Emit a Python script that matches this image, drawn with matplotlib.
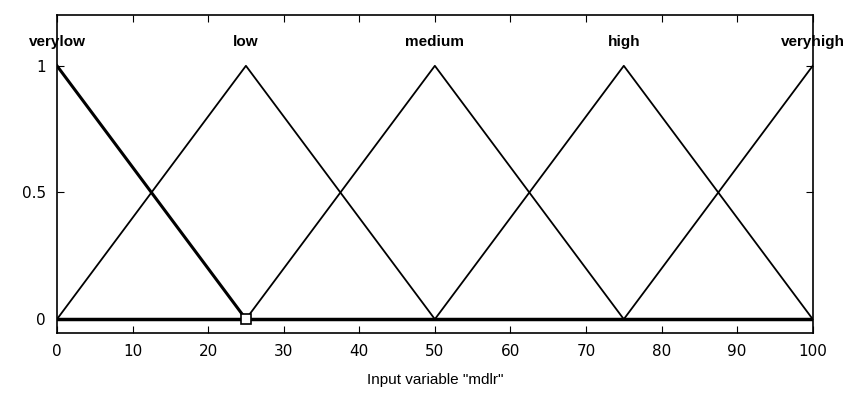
import matplotlib
matplotlib.use("Agg")
import matplotlib.pyplot as plt

mf_names = ["verylow", "low", "medium", "high", "veryhigh"]
mf_params = [[-25, 0, 25], [0, 25, 50], [25, 50, 75], [50, 75, 100], [75, 100, 125]]
x_range = [0, 100]
x_ticks = [0, 10, 20, 30, 40, 50, 60, 70, 80, 90, 100]
y_ticks = [0, 0.5, 1]
y_ticklabels = ["0", "0.5", "1"]
xlabel = 'Input variable "mdlr"'

fig = plt.figure(figsize=(8.53, 3.98), dpi=100)
ax = fig.add_axes([0.0668, 0.163, 0.886, 0.799])

for i, (name, (a, b, c)) in enumerate(zip(mf_names, mf_params)):
    xs = [max(a, x_range[0]), b, min(c, x_range[1])]
    def mu(x):
        if x <= b:
            return (x - a) / (b - a)
        return (c - x) / (c - b)
    ys = [mu(v) for v in xs]
    lw = 2.2 if i == 0 else 1.3
    ax.plot(xs, ys, color="black", lw=lw)
    tx = min(max(b, x_range[0] - 2.5), x_range[1] + 0.5)
    ax.text(tx, 1.095, name, ha="center", va="center", fontsize=11,
            fontweight="bold", family="Liberation Sans")

ax.plot(x_range, [0, 0], color="black", lw=2.5)
ax.plot([25], [0], marker="s", ms=7, mfc="white", mec="black", mew=1.2, clip_on=False)

ax.set_xlim(x_range)
ax.set_ylim(-0.055, 1.2)
ax.set_xticks(x_ticks)
ax.set_yticks(y_ticks)
ax.set_yticklabels(y_ticklabels)
ax.tick_params(direction="in", top=True, right=True, labelsize=11, length=5, pad=8)
for s in ax.spines.values():
    s.set_linewidth(1.2)
ax.set_xlabel(xlabel, fontsize=11, labelpad=10, family="Liberation Sans")

fig.savefig("out.png", dpi=100)
